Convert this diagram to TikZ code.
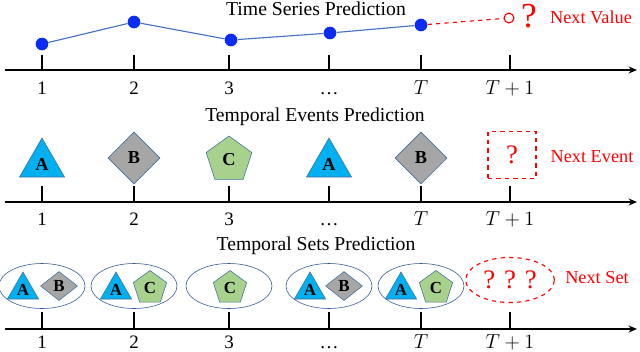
\documentclass[tikz,border=0pt]{standalone}
\usepackage{fontspec}
\setmainfont{Liberation Serif}
\usetikzlibrary{shapes.geometric,positioning,calc,arrows.meta}
\definecolor{trifill}{HTML}{00B0F0}
\definecolor{diafill}{HTML}{A6A6A6}
\definecolor{penfill}{HTML}{A9D18E}
\definecolor{shapeedge}{HTML}{41719C}
\definecolor{setedge}{HTML}{2F5597}
\definecolor{ptcol}{HTML}{0A2CF5}
\definecolor{lncol}{HTML}{4472C4}
\definecolor{nextcol}{HTML}{FF0000}

\tikzset{
  axisline/.style={line width=1.3pt,-{Stealth[length=6pt,width=5pt]}},
  tickmark/.style={line width=1.3pt},
  rowtitle/.style={font=\fontsize{14}{16}\selectfont},
  ticklab/.style={anchor=base,font=\fontsize{13.5}{15}\selectfont},
  nextlab/.style={text=nextcol,font=\fontsize{13}{15}\selectfont},
  dot/.style={circle,fill=ptcol,inner sep=0pt,minimum size=9pt},
  bigtri/.style={regular polygon,regular polygon sides=3,fill=trifill,draw=shapeedge,
    inner sep=0pt,minimum size=1.3cm,font=\bfseries\fontsize{13}{15}\selectfont},
  bigdia/.style={diamond,fill=diafill,draw=shapeedge,inner sep=0pt,
    minimum width=1.3cm,minimum height=1.3cm,font=\bfseries\fontsize{13}{15}\selectfont},
  bigpen/.style={regular polygon,regular polygon sides=5,fill=penfill,draw=shapeedge,
    inner sep=0pt,minimum size=1.2cm,font=\bfseries\fontsize{13}{15}\selectfont},
  smtri/.style={regular polygon,regular polygon sides=3,fill=trifill,draw=shapeedge,
    inner sep=0pt,minimum size=0.9cm,font=\bfseries\fontsize{12}{14}\selectfont},
  smdia/.style={diamond,fill=diafill,draw=shapeedge,inner sep=0pt,
    minimum width=0.925cm,minimum height=0.725cm,font=\bfseries\fontsize{12}{14}\selectfont},
  smpen/.style={regular polygon,regular polygon sides=5,fill=penfill,draw=shapeedge,
    inner sep=0pt,minimum size=0.875cm,font=\bfseries\fontsize{12}{14}\selectfont},
  setring/.style={ellipse,draw=setedge,thin,minimum width=2.15cm,minimum height=1.125cm},
}

\begin{document}
\begin{tikzpicture}[x=0.025cm,y=-0.025cm]
  \useasboundingbox (0,0) rectangle (640,351);

  % row 1: time series
  \node[rowtitle] (tstitle) at (316,9) {Time Series Prediction};
  \draw[axisline] (5,70) -- (637,70);
  \foreach \x/\lab in {42/1,134/2,229/3,329/\dots,421/$T$,510/$T+1$}{
    \draw[tickmark] (\x,55) -- (\x,70);
    \node[ticklab] at (\x,94) {\lab};
  }
  \node[dot] (p1) at (42,44) {};
  \node[dot] (p2) at (134,22) {};
  \node[dot] (p3) at (231,40) {};
  \node[dot] (p4) at (330,33) {};
  \node[dot] (p5) at (421,25) {};
  \node[circle,draw=nextcol,fill=white,thick,inner sep=0pt,minimum size=7pt] (pn) at (509,18) {};
  \draw[lncol,thick] (p1) -- (p2) -- (p3) -- (p4) -- (p5);
  \draw[nextcol,thick,dashed] (p5) -- (pn);
  \node[text=nextcol,font=\fontsize{25}{27}\selectfont] (qv) at (529,16) {?};
  \node[nextlab] (nv) at (591,17) {Next Value};

  % row 2: temporal events
  \node[rowtitle] (evtitle) at (315,117) {Temporal Events Prediction};
  \draw[axisline] (5,202) -- (637,202);
  \foreach \x/\lab in {42/1,134/2,229/3,329/\dots,421/$T$,510/$T+1$}{
    \draw[tickmark] (\x,186) -- (\x,202);
    \node[ticklab] at (\x,225) {\lab};
  }
  \node[bigtri] (e1) at (42,164) {\raisebox{-3pt}{A}};
  \node[bigdia] (e2) at (134,158) {B};
  \node[bigpen] (e3) at (229,160) {C};
  \node[bigtri] (e4) at (329,164) {\raisebox{-3pt}{A}};
  \node[bigdia] (e5) at (421,158) {B};
  \node[draw=nextcol,thick,dashed,minimum width=1.2cm,minimum height=1.18cm,
    text=nextcol,font=\fontsize{19}{21}\selectfont] (en) at (512,155) {?};
  \node[nextlab] (ne) at (592,157) {Next Event};

  % row 3: temporal sets
  \node[rowtitle] (sttitle) at (316,246) {Temporal Sets Prediction};
  \draw[axisline] (5,329) -- (637,329);
  \foreach \x/\lab in {42/1,134/2,229/3,329/\dots,421/$T$,510/$T+1$}{
    \draw[tickmark] (\x,312) -- (\x,329);
    \node[ticklab] at (\x,348) {\lab};
  }
  \node[setring] (s1) at (42,286) {};
  \node[setring] (s2) at (134,286) {};
  \node[setring] (s3) at (229,286) {};
  \node[setring] (s4) at (329,286) {};
  \node[setring] (s5) at (421,286) {};
  \node[smtri] (s1a) at (23,290) {\raisebox{-2pt}{A}};
  \node[smdia] (s1b) at (59,286) {B};
  \node[smtri] (s2a) at (116,290) {\raisebox{-2pt}{A}};
  \node[smpen] (s2c) at (150,288) {C};
  \node[smpen] (s3c) at (230,288) {C};
  \node[smtri] (s4a) at (310,290) {\raisebox{-2pt}{A}};
  \node[smdia] (s4b) at (344,286) {B};
  \node[smtri] (s5a) at (401,290) {\raisebox{-2pt}{A}};
  \node[smpen] (s5c) at (436,288) {C};
  \node[ellipse,draw=nextcol,thick,dashed,minimum width=2.1cm,minimum height=1.125cm,
    text=nextcol,font=\fontsize{19}{21}\selectfont] (sn) at (510,280) {?\,\,?\,\,?};
  \node[nextlab] (ns) at (597,278) {Next Set};
\end{tikzpicture}
\end{document}
